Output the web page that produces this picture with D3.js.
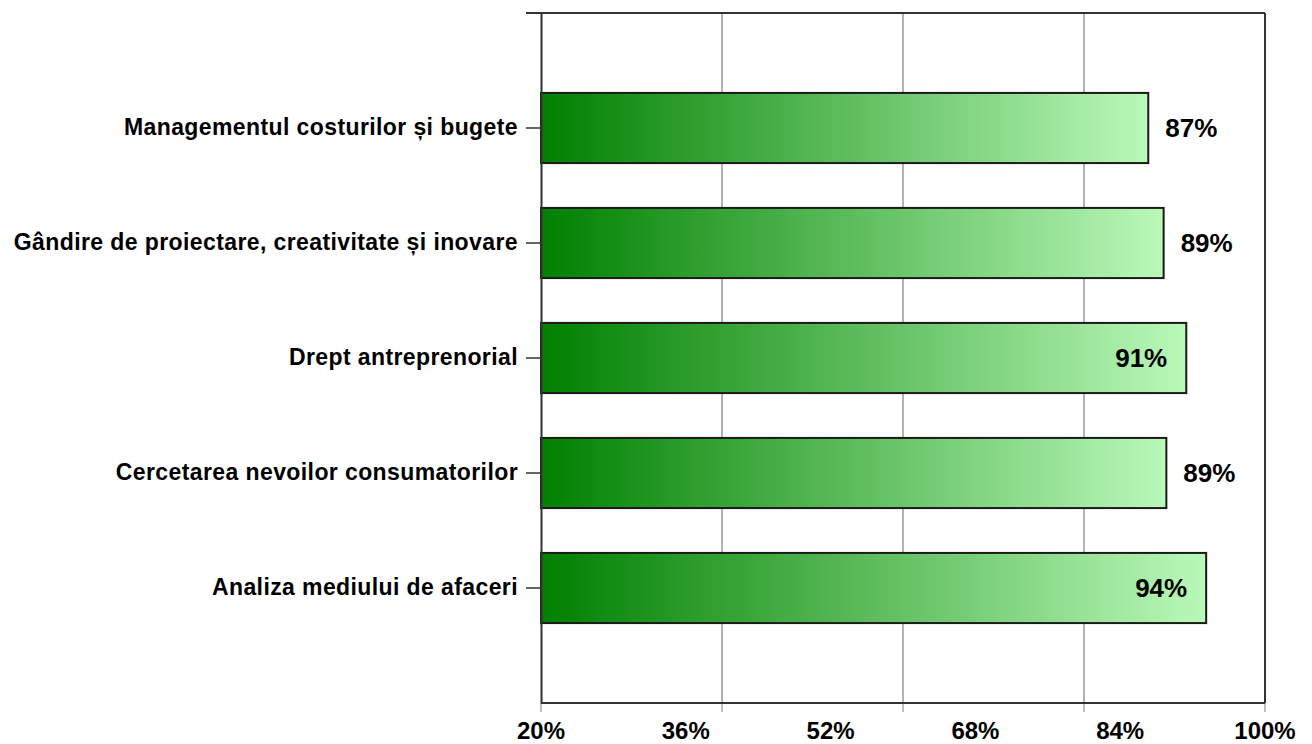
<!DOCTYPE html>
<html>
<head>
<meta charset="utf-8">
<script src="https://cdn.jsdelivr.net/npm/d3@7"></script>
<style>
  body { margin: 0; background: #fff; }
  text { font-family: "Liberation Sans", Arial, sans-serif; fill: #000; }
</style>
</head>
<body>
<div id="chart"></div>
<script>
// Horizontal bar chart - competences

const categories = [
    "Managementul costurilor și bugete",
    "Gândire de proiectare, creativitate și inovare",
    "Drept antreprenorial",
    "Cercetarea nevoilor consumatorilor",
    "Analiza mediului de afaceri"
];
const values = [87.1, 88.8, 91.3, 89.1, 93.5];
const valueLabels = ["87%", "89%", "91%", "89%", "94%"];
const axisTicks = [20, 36, 52, 68, 84, 100];
const gridTicks = [20, 40, 60, 80, 100];

const width = 1312;
const height = 744;
const margin = { top: 13, right: 47, bottom: 41, left: 541 };

const svg = d3.select("#chart")
    .append("svg")
    .attr("width", width)
    .attr("height", height);

const defs = svg.append("defs");
const grad = defs.append("linearGradient")
    .attr("id", "barGrad")
    .attr("x1", "0%").attr("x2", "100%")
    .attr("y1", "0%").attr("y2", "0%");
grad.append("stop").attr("offset", "0%").attr("stop-color", "#008000");
grad.append("stop").attr("offset", "100%").attr("stop-color", "#baf9b9");

const x = d3.scaleLinear()
    .domain([20, 100])
    .range([margin.left, width - margin.right]);

const y = d3.scaleBand()
    .domain(categories)
    .range([margin.top, height - margin.bottom])
    .paddingInner(0.39)
    .paddingOuter(0.695);

// gridlines
svg.append("g")
    .selectAll("line")
    .data(gridTicks.slice(1, -1))
    .join("line")
    .attr("x1", d => x(d)).attr("x2", d => x(d))
    .attr("y1", margin.top).attr("y2", height - margin.bottom)
    .attr("stroke", "#9a9a9a")
    .attr("stroke-width", 1.5);

// small ticks below the bottom axis
svg.append("g")
    .selectAll("line")
    .data(gridTicks)
    .join("line")
    .attr("x1", d => x(d)).attr("x2", d => x(d))
    .attr("y1", height - margin.bottom).attr("y2", height - margin.bottom + 9)
    .attr("stroke", "#aaa")
    .attr("stroke-width", 1.5);

// frame: top, right, bottom
const frame = svg.append("g").attr("stroke", "#333").attr("stroke-width", 2).attr("fill", "none");
frame.append("line")
    .attr("x1", x(20) - 15).attr("x2", x(100))
    .attr("y1", margin.top).attr("y2", margin.top);
frame.append("line")
    .attr("x1", x(100)).attr("x2", x(100))
    .attr("y1", margin.top).attr("y2", height - margin.bottom);
frame.append("line")
    .attr("x1", x(20)).attr("x2", x(100))
    .attr("y1", height - margin.bottom).attr("y2", height - margin.bottom);

// bars
svg.append("g")
    .selectAll("rect")
    .data(values)
    .join("rect")
    .attr("x", x(20))
    .attr("y", (d, i) => y(categories[i]))
    .attr("width", d => x(d) - x(20))
    .attr("height", y.bandwidth())
    .attr("fill", "url(#barGrad)")
    .attr("stroke", "#1a1a1a")
    .attr("stroke-width", 2);

// left axis
const yAxis = svg.append("g")
    .attr("transform", `translate(${x(20)},0)`)
    .call(d3.axisLeft(y).tickSize(15).tickSizeOuter(0).tickPadding(8));
yAxis.select(".domain").attr("stroke", "#333").attr("stroke-width", 2);
yAxis.selectAll(".tick line").attr("stroke", "#333").attr("stroke-width", 1.5);
yAxis.selectAll(".tick text")
    .style("font-size", "23px")
    .style("font-weight", "bold")
    .style("letter-spacing", "0.4px")
    .attr("fill", "#000");

// bottom labels
svg.append("g")
    .selectAll("text")
    .data(axisTicks)
    .join("text")
    .attr("x", (d, i) => x(20) + i * (x(100) - x(20)) / (axisTicks.length - 1))
    .attr("y", 739)
    .attr("text-anchor", "middle")
    .style("font-size", "24px")
    .style("font-weight", "bold")
    .text(d => d + "%");

// value labels
svg.append("g")
    .selectAll("text")
    .data(values)
    .join("text")
    .attr("x", d => d >= 90 ? x(d) - 19 : x(d) + 17)
    .attr("y", (d, i) => y(categories[i]) + y.bandwidth() / 2)
    .attr("dy", "0.36em")
    .attr("text-anchor", d => d >= 90 ? "end" : "start")
    .style("font-size", "26px")
    .style("font-weight", "bold")
    .text((d, i) => valueLabels[i]);
</script>
</body>
</html>
